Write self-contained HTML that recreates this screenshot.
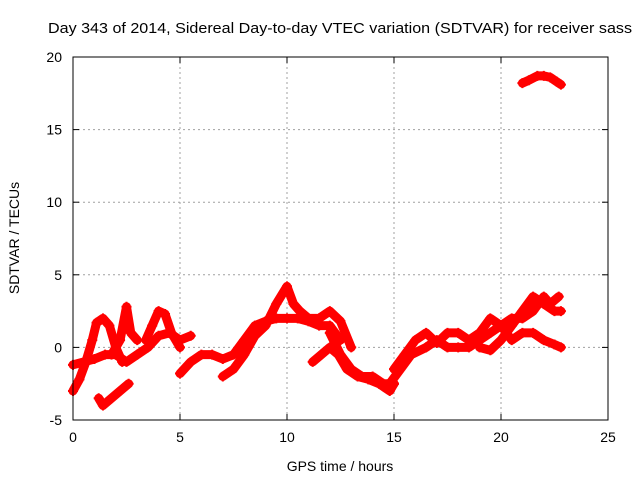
<!DOCTYPE html>
<html><head><meta charset="utf-8"><style>
body{margin:0;background:#fff}
text{font-family:"Liberation Sans",sans-serif;fill:#000}
</style></head><body>
<svg id="chart" width="640" height="480" xmlns="http://www.w3.org/2000/svg">
<rect width="640" height="480" fill="#fff"/>
<text x="48" y="33" font-size="15" textLength="584" lengthAdjust="spacingAndGlyphs">Day 343 of 2014, Sidereal Day-to-day VTEC variation (SDTVAR) for receiver sass</text>
<text x="340" y="471" font-size="14" text-anchor="middle">GPS time / hours</text>
<text transform="translate(19,238) rotate(-90)" font-size="14" text-anchor="middle">SDTVAR / TECUs</text>
<g id="grid"></g><g id="ticks"></g><g id="marks"></g>
<rect x="73" y="57" width="535" height="363" fill="none" stroke="#000" stroke-width="1"/>
</svg>
<script>
const xTicks=[0,5,10,15,20,25];
const yTicks=[-5,0,5,10,15,20];
const s1=[[0,-3],[0.3,-2.2],[0.6,-1],[0.9,0.5],[1.1,1.7],[1.4,2],[1.7,1.5],[2,0],[2.3,-1]];
const s2=[[0,-1.2],[0.5,-1],[1,-0.8],[1.5,-0.5],[2,-0.5],[2.5,-1],[3,-0.5],[3.5,0],[4,0.8],[4.5,1],[5,0.5],[5.5,0.8]];
const s3=[[1.8,-0.5],[2.2,0.5],[2.5,2.8],[2.7,1],[3,0.5]];
const s4=[[1.2,-3.5],[1.4,-4],[1.8,-3.5],[2.2,-3],[2.6,-2.5]];
const s5=[[3.4,0.5],[3.7,1.5],[4,2.5],[4.3,2.3],[4.6,1],[5,0]];
const s6=[[5,-1.8],[5.5,-1],[6,-0.5],[6.5,-0.5],[7,-0.8],[7.5,-0.5],[8,0.5],[8.5,1.5],[9,1.8],[9.5,2],[10,2],[10.5,2],[11,1.8],[11.5,1.5],[12,1.5],[12.5,0.5]];
const s7=[[7,-2],[7.5,-1.5],[8,-0.5],[8.5,0.8],[9,1.5],[9.5,3],[10,4.2],[10.3,3],[10.6,2.5],[11,2],[11.5,2],[12,2.5],[12.5,1.8],[13,0]];
const s8=[[12,1],[12.5,-0.5],[13,-1.5],[13.5,-2],[14,-2],[14.5,-2.5],[15,-2.5]];
const s9=[[11.2,-1],[11.6,-0.5],[12,0],[12.4,-0.5],[12.8,-1.5],[13.3,-2],[13.8,-2.2],[14.3,-2.5],[14.8,-3],[15,-2.5]];
const s10=[[14.8,-2.5],[15.3,-1.5],[15.8,-0.5],[16.5,0],[17,0.5],[17.5,0],[18,0],[18.5,0],[19,0.5],[19.5,1],[20,1.5],[20.5,2],[21,2],[21.5,2.5],[22,3.5],[22.3,3],[22.7,3.5]];
const s11=[[15,-1.5],[15.5,-0.5],[16,0.5],[16.5,1],[17,0.3],[17.5,1],[18,1],[18.5,0.5],[19,1],[19.5,2],[20,1.5],[20.5,0.5],[21,1],[21.5,1],[22,0.5],[22.5,0.2],[22.8,0]];
const s12=[[19,0],[19.5,-0.2],[20,0.5],[20.5,1.5],[21,2.5],[21.5,3.5],[22,3],[22.5,2.5],[22.8,2.5]];
const s13=[[21,18.2],[21.3,18.4],[21.7,18.7],[22,18.7],[22.3,18.6],[22.6,18.3],[22.8,18.1]];
const series=[s1,s2,s3,s4,s5,s6,s7,s8,s9,s10,s11,s12,s13];
const NS="http://www.w3.org/2000/svg";
const X=h=>73+h*535/25, Y=v=>420-(v+5)*363/25;
const grid=document.getElementById('grid'),ticks=document.getElementById('ticks'),marks=document.getElementById('marks');
function mk(tag,attrs,parent){const e=document.createElementNS(NS,tag);for(const k in attrs)e.setAttribute(k,attrs[k]);parent.appendChild(e);return e;}
xTicks.forEach(t=>{
  const x=X(t);
  if(t>0&&t<25){const g=mk('line',{x1:x,x2:x,y1:57,y2:420,stroke:'#a0a0a0','stroke-dasharray':'2,3'},grid);
  
  }
  mk('line',{x1:x,x2:x,y1:420,y2:414,stroke:'#000'},ticks);
  mk('line',{x1:x,x2:x,y1:57,y2:63,stroke:'#000'},ticks);
  const l=mk('text',{x:x,y:442,'font-size':14,'text-anchor':'middle'},ticks);l.textContent=t;
  
  
});
yTicks.forEach(t=>{
  const y=Y(t);
  if(t>-5&&t<20){const g=mk('line',{x1:73,x2:608,y1:y,y2:y,stroke:'#a0a0a0','stroke-dasharray':'2,3'},grid);
  
  }
  mk('line',{x1:73,x2:79,y1:y,y2:y,stroke:'#000'},ticks);
  mk('line',{x1:608,x2:602,y1:y,y2:y,stroke:'#000'},ticks);
  const l=mk('text',{x:62,y:y+5,'font-size':14,'text-anchor':'end'},ticks);l.textContent=t;
  
  
});
series.forEach((s,i)=>{
  const p=mk('polyline',{points:s.map(d=>X(d[0])+','+Y(d[1])).join(' '),fill:'none',stroke:'#ff0000','stroke-width':9,'stroke-linejoin':'round','stroke-linecap':'round'},marks);
  
  
  s.forEach(d=>{
    const m=mk('path',{d:`M${X(d[0])-5},${Y(d[1])}h10M${X(d[0])},${Y(d[1])-5}v10`,stroke:'#ff0000','stroke-width':2},marks);
    
    
  });
});
</script>
</body></html>
